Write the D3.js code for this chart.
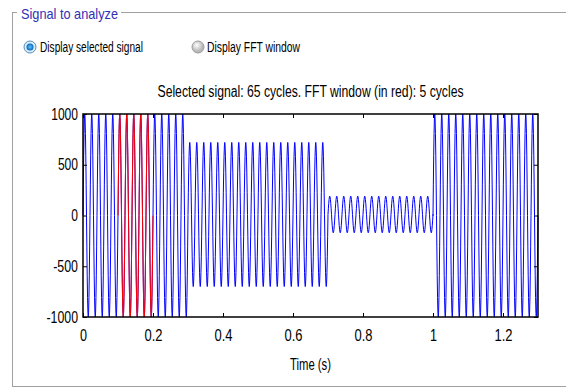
<!DOCTYPE html>
<html>
  <head>
    <meta charset="utf-8" />
    <title>Signal to analyze</title>
    <style>
      body {
        margin: 0;
        background: #fff;
      }
      svg {
        display: block;
        font-family: "Liberation Sans", Arial, sans-serif;
      }
    </style>
  </head>
  <body>
    <svg class="canvas"></svg>
    <script src="https://cdn.jsdelivr.net/npm/d3@7"></script>
    <script>
      // signal made of 50 Hz pieces: start/end time (s), peak amplitude, dc offset
      const segStart = [0, 0.3, 0.7, 1.0];
      const segEnd = [0.3, 0.7, 1.0, 1.3];
      const segAmp = [1000, 710, 180, 1000];
      const segOffset = [0, 10, 10, 0];
      const freq = 50;
      const fftWindow = [0.1, 0.2];
      const xTicks = [0, 0.2, 0.4, 0.6, 0.8, 1, 1.2];
      const yTicks = [-1000, -500, 0, 500, 1000];

      const width = 566,
        height = 389;
      const margin = { left: 83, right: 28, top: 114, bottom: 72 };

      const svg = d3.select(".canvas").attr("width", width).attr("height", height);

      //------------- panel frame ----------------
      svg
        .append("rect")
        .attr("x", 12.5)
        .attr("y", 12.5)
        .attr("width", 570)
        .attr("height", 374)
        .attr("fill", "none")
        .attr("stroke", "#a0a0a0");
      svg
        .append("rect")
        .attr("x", 17)
        .attr("y", 4)
        .attr("width", 104)
        .attr("height", 18)
        .attr("fill", "#fff");
      svg
        .append("text")
        .attr("x", 21)
        .attr("y", 19)
        .attr("font-size", 15)
        .attr("fill", "#3030b4")
        .attr("textLength", 97)
        .attr("lengthAdjust", "spacingAndGlyphs")
        .text("Signal to analyze");

      //------------- radio buttons ----------------
      const radio = svg.append("defs");
      const g1 = radio.append("radialGradient").attr("id", "on");
      g1.append("stop").attr("offset", "0%").attr("stop-color", "#5fc6ff");
      g1.append("stop").attr("offset", "100%").attr("stop-color", "#0a64b8");
      const g2 = radio.append("radialGradient").attr("id", "off").attr("cx", "40%").attr("cy", "35%");
      g2.append("stop").attr("offset", "0%").attr("stop-color", "#ffffff");
      g2.append("stop").attr("offset", "100%").attr("stop-color", "#b8b8b8");

      svg
        .append("circle")
        .attr("cx", 30)
        .attr("cy", 47)
        .attr("r", 6)
        .attr("fill", "#d6ecf8")
        .attr("stroke", "#5a8fb8");
      svg.append("circle").attr("cx", 30).attr("cy", 47).attr("r", 3.5).attr("fill", "url(#on)");
      svg
        .append("text")
        .attr("x", 40)
        .attr("y", 52)
        .attr("font-size", 14)
        .attr("fill", "#000")
        .attr("textLength", 103)
        .attr("lengthAdjust", "spacingAndGlyphs")
        .text("Display selected signal");

      svg
        .append("circle")
        .attr("cx", 198)
        .attr("cy", 47)
        .attr("r", 6)
        .attr("fill", "url(#off)")
        .attr("stroke", "#9a9a9a");
      svg
        .append("text")
        .attr("x", 207)
        .attr("y", 52)
        .attr("font-size", 14)
        .attr("fill", "#000")
        .attr("textLength", 93)
        .attr("lengthAdjust", "spacingAndGlyphs")
        .text("Display FFT window");

      //------------- scales ----------------
      const x = d3
        .scaleLinear()
        .domain([0, 1.3])
        .range([margin.left, width - margin.right]);
      const y = d3
        .scaleLinear()
        .domain([-1000, 1000])
        .range([height - margin.bottom, margin.top]);

      //------------- signal ----------------
      const fs = 1000;
      function samples(t0, t1) {
        const pts = [];
        for (let s = 0; s < segStart.length; s++) {
          const a = Math.max(t0, segStart[s]),
            b = Math.min(t1, segEnd[s]);
          if (b <= a) continue;
          const n0 = Math.ceil(a * fs),
            n1 = Math.floor(b * fs);
          for (let n = n0; n <= n1; n++) {
            const t = n / fs;
            pts.push([t, segOffset[s] + segAmp[s] * Math.sin(2 * Math.PI * freq * t)]);
          }
        }
        return pts;
      }

      const line = d3
        .line()
        .x((d) => x(d[0]))
        .y((d) => y(Math.max(-1000, Math.min(1000, d[1]))));

      svg
        .append("path")
        .datum(samples(0, 1.3))
        .attr("d", line)
        .attr("fill", "none")
        .attr("stroke", "#0000ff")
        .attr("stroke-width", 1);

      svg
        .append("path")
        .datum(samples(fftWindow[0], fftWindow[1]))
        .attr("d", line)
        .attr("fill", "none")
        .attr("stroke", "#ff0000")
        .attr("stroke-width", 1);

      //------------- axes ----------------
      // plain hyphen for negatives, like the original
      const fmt = (d) => String(d);

      svg
        .append("g")
        .attr("transform", `translate(0,${height - margin.bottom})`)
        .call(d3.axisBottom(x).tickValues(xTicks).tickFormat(fmt).tickSizeInner(-4).tickSizeOuter(0).tickPadding(13))
        .call((g) => g.select(".domain").remove())
        .call((g) =>
          g
            .selectAll("text")
            .attr("font-size", 16)
            .attr("font-family", "Liberation Sans, Arial, sans-serif")
            .attr("fill", "#000")
            .attr("textLength", (d) => fmt(d).length * 7 - (fmt(d).includes(".") ? 3 : 0))
            .attr("lengthAdjust", "spacingAndGlyphs")
        );

      svg
        .append("g")
        .attr("transform", `translate(${margin.left},0)`)
        .call(d3.axisLeft(y).tickValues(yTicks).tickFormat(fmt).tickSizeInner(-4).tickSizeOuter(0).tickPadding(5))
        .call((g) => g.select(".domain").remove())
        .call((g) =>
          g
            .selectAll("text")
            .attr("font-size", 16)
            .attr("font-family", "Liberation Sans, Arial, sans-serif")
            .attr("fill", "#000")
            .attr("textLength", (d) => fmt(d).length * 6.7 - (d < 0 ? 2 : 0))
            .attr("lengthAdjust", "spacingAndGlyphs")
        );

      // top and right tick marks
      svg
        .append("g")
        .attr("transform", `translate(0,${margin.top})`)
        .call(d3.axisTop(x).tickValues(xTicks).tickFormat("").tickSizeInner(-4).tickSizeOuter(0))
        .call((g) => g.select(".domain").remove());
      svg
        .append("g")
        .attr("transform", `translate(${width - margin.right},0)`)
        .call(d3.axisRight(y).tickValues(yTicks).tickFormat("").tickSizeInner(-4).tickSizeOuter(0))
        .call((g) => g.select(".domain").remove());

      // box
      svg
        .append("rect")
        .attr("x", x(0))
        .attr("y", y(1000))
        .attr("width", x(1.3) - x(0))
        .attr("height", y(-1000) - y(1000))
        .attr("fill", "none")
        .attr("stroke", "#000")
        .attr("stroke-width", 1.5);

      //------------- labels ----------------
      svg
        .append("text")
        .attr("x", (x(0) + x(1.3)) / 2)
        .attr("y", 97)
        .attr("text-anchor", "middle")
        .attr("font-size", 16)
        .attr("textLength", 306)
        .attr("lengthAdjust", "spacingAndGlyphs")
        .text("Selected signal: 65 cycles. FFT window (in red): 5 cycles");

      svg
        .append("text")
        .attr("x", (x(0) + x(1.3)) / 2)
        .attr("y", 370)
        .attr("text-anchor", "middle")
        .attr("font-size", 16)
        .attr("textLength", 41)
        .attr("lengthAdjust", "spacingAndGlyphs")
        .text("Time (s)");
    </script>
  </body>
</html>
